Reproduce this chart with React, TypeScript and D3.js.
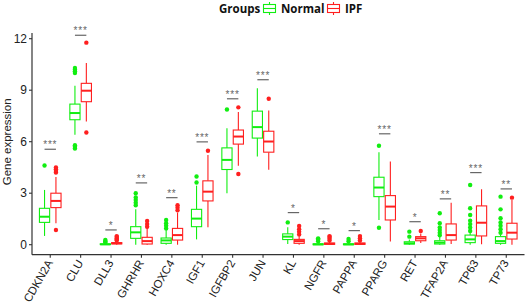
import React from "react";
import * as d3 from "d3";

const categories = ["CDKN2A","CLU","DLL3","GHRHR","HOXC4","IGF1","IGFBP2","JUN","KL","NGFR","PAPPA","PPARG","RET","TFAP2A","TP63","TP73"];
const groups = ["Normal","IPF"];
const yTicks = [0,3,6,9,12];

// [lowerWhisker, Q1, median, Q3, upperWhisker]
const normalStats = [
  [0.51,1.30,1.63,2.12,3.19],[6.4,7.28,7.67,8.19,9.26],[0,0.01,0.02,0.05,0.1],[0,0.37,0.72,1.05,2.06],
  [0,0.08,0.25,0.39,0.86],[0.31,1.05,1.52,2.06,3.44],[3.0,4.38,4.94,5.64,6.79],[5.14,6.21,6.85,7.78,9.12],
  [0.04,0.3,0.47,0.63,1.02],[0,0,0.02,0.05,0.1],[0,0,0.02,0.05,0.1],[1.44,2.8,3.33,3.93,5.39],
  [0,0.04,0.08,0.17,0.3],[0,0.04,0.12,0.23,0.45],[0,0.12,0.31,0.56,0.7],[0,0.08,0.21,0.47,0.6]
];
const ipfStats = [
  [1.25,2.16,2.55,3.0,3.95],[7.18,8.33,8.97,9.4,10.58],[0,0.05,0.08,0.12,0.2],[0,0.04,0.21,0.43,1.0],
  [0,0.27,0.56,0.95,1.87],[1.01,2.55,3.09,3.72,5.23],[4.6,5.86,6.3,6.68,7.73],[4.36,5.39,6.01,6.61,7.82],
  [0,0.08,0.21,0.31,0.5],[0,0.02,0.05,0.1,0.18],[0,0.02,0.05,0.1,0.18],[0.18,1.44,2.22,2.86,4.84],
  [0.1,0.23,0.37,0.47,0.65],[0.04,0.27,0.56,1.21,2.45],[0.02,0.51,1.28,2.26,3.23],[0,0.33,0.7,1.25,2.6]
];
const normalOutliers = [
  [4.61],[10.0,10.1,10.2,10.3,5.6,5.7,5.8],[0.15,0.2,0.27],[2.3,2.45,2.6,2.75,3.0],
  [0.95,1.1,1.25,1.44],[3.62,3.97],[7.88],[],
  [1.3],[0.2,0.3,0.37],[0.2,0.33],[5.76,0.99],
  [0.47,0.76],[0.55,0.7,0.85,1.0,1.25,1.83],[0.8,1.0,1.2,1.4,1.73,2.12,3.48],[0.7,0.9,1.1,1.3,1.54,2.06,2.8]
];
const ipfOutliers = [
  [4.2,4.3,4.4,4.5,0.86],[11.77,6.54],[0.25,0.3,0.38,0.45,0.5],[1.05,1.2,1.38],
  [2.0,2.15,2.3],[5.47],[8.0,4.12],[8.5],
  [0.6,0.75,0.9,1.09],[0.25,0.35,0.45,0.5],[0.25,0.38,0.5],[],
  [0.8],[],[],[2.74]
];
const signifLabels = ["***","***","*","**","**","***","***","***","*","*","*","***","*","**","***","**"];
const signifY = [5.56,12.2,0.86,3.6,2.74,5.99,8.5,9.61,1.87,0.93,0.82,6.46,1.34,2.67,4.2,3.25];

const W = 526, H = 303;
const left = 32, right = 524.5, top = 33, bottom = 254.7;
const colors = ["#11ee11", "#ff1f1f"];

export default function App() {
  const x = d3.scalePoint<string>().domain(categories).range([left, right]).padding(0.6);
  const y = d3.scaleLinear().domain([0, 12]).range([244.7, 38.7]);
  const step = x.step();
  const dodge = d3.scaleBand<string>().domain(groups).range([-step * 0.375, step * 0.375]);
  const bw = dodge.bandwidth();
  const font = "'Liberation Sans', Arial, sans-serif";
  const boldFont = "'Open Sans', 'Noto Sans', sans-serif";

  const renderBox = (stats: number[], outs: number[], gi: number, cx: number, key: string) => {
    const [lo, q1, med, q3, hi] = stats;
    const c = colors[gi];
    const x0 = cx + (dodge(groups[gi]) as number) + 0.6;
    const w = bw - 1.2;
    const mx = x0 + w / 2;
    return (
      <g key={key}>
        <line x1={mx} x2={mx} y1={y(hi)} y2={y(q3)} stroke={c} strokeWidth={1.1} />
        <line x1={mx} x2={mx} y1={y(q1)} y2={y(lo)} stroke={c} strokeWidth={1.1} />
        <rect x={x0} y={y(q3)} width={w} height={Math.max(0.5, y(q1) - y(q3))} fill="white" stroke={c} strokeWidth={1.1} />
        <line x1={x0} x2={x0 + w} y1={y(med)} y2={y(med)} stroke={c} strokeWidth={2} />
        {outs.map((o, k) => <circle key={k} cx={mx} cy={y(o)} r={2.2} fill={c} />)}
      </g>
    );
  };

  return (
    <svg width={W} height={H} style={{ position: "absolute", left: 0, top: 0, background: "white" }}>
      {/* legend */}
      <text x={219} y={13} fontFamily={boldFont} fontWeight="bold" fontSize={11.5} fill="#111">Groups</text>
      {groups.map((g, gi) => {
        const kx = gi === 0 ? 263.5 : 327.5;
        const c = colors[gi];
        return (
          <g key={g}>
            <line x1={kx + 6} x2={kx + 6} y1={2} y2={15} stroke={c} strokeWidth={1.1} />
            <rect x={kx} y={4.5} width={12} height={8} fill="white" stroke={c} strokeWidth={1.1} />
            <line x1={kx} x2={kx + 12} y1={8.5} y2={8.5} stroke={c} strokeWidth={1.1} />
            <text x={kx + 17.5} y={13} fontFamily={boldFont} fontWeight="bold" fontSize={11.5} fill="#111">{g}</text>
          </g>
        );
      })}

      {/* axes */}
      <line x1={left} x2={left} y1={top} y2={bottom} stroke="#333" strokeWidth={1.2} />
      <line x1={left} x2={right} y1={bottom} y2={bottom} stroke="#333" strokeWidth={1.2} />
      {yTicks.map(t => (
        <g key={t}>
          <line x1={left - 3} x2={left} y1={y(t)} y2={y(t)} stroke="#333" strokeWidth={1.1} />
          <text x={left - 5} y={y(t)} dy="0.35em" textAnchor="end" fontFamily={font} fontSize={12} fill="#222">{t}</text>
        </g>
      ))}
      <text transform={`translate(11,${(top + bottom) / 2 - 2}) rotate(-90)`} textAnchor="middle" fontFamily={font} fontSize={11.5} fill="#222">Gene expression</text>
      {categories.map(cat => {
        const cx = x(cat) as number;
        return (
          <g key={cat}>
            <line x1={cx} x2={cx} y1={bottom} y2={bottom + 3} stroke="#333" strokeWidth={1.1} />
            <text transform={`translate(${cx + 3},${bottom + 8}) rotate(-60)`} textAnchor="end" fontFamily={font} fontSize={11.5} fill="#222">{cat}</text>
          </g>
        );
      })}

      {/* boxes */}
      {categories.map((cat, i) => {
        const cx = x(cat) as number;
        return (
          <g key={cat}>
            {renderBox(normalStats[i], normalOutliers[i], 0, cx, "n")}
            {renderBox(ipfStats[i], ipfOutliers[i], 1, cx, "i")}
          </g>
        );
      })}

      {/* significance */}
      {categories.map((cat, i) => {
        const cx = x(cat) as number;
        const x1 = cx + (dodge(groups[0]) as number) + bw / 2;
        const x2 = cx + (dodge(groups[1]) as number) + bw / 2;
        const yy = y(signifY[i]);
        return (
          <g key={cat}>
            <line x1={x1} x2={x2} y1={yy} y2={yy} stroke="#666" strokeWidth={1.2} />
            <text x={(x1 + x2) / 2} y={yy - 1} textAnchor="middle" fontFamily={font} fontSize={10} letterSpacing={0.8} fill="#666">{signifLabels[i]}</text>
          </g>
        );
      })}
    </svg>
  );
}
